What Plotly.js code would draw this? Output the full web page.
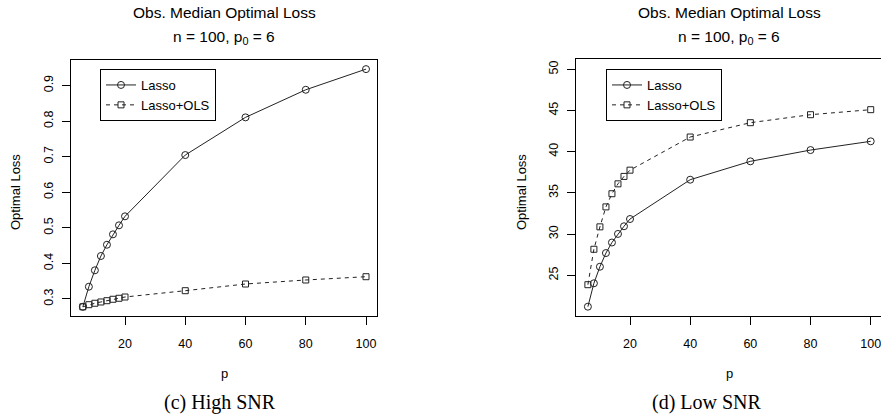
<!DOCTYPE html>
<html>
<head>
<meta charset="utf-8">
<script src="https://cdn.plot.ly/plotly-3.0.1.min.js"></script>
<style>html,body{margin:0;padding:0;background:#fff;}#chart{width:881px;height:418px;}</style>
</head>
<body>
<div id="chart"></div>
<script>
// Data
const p = [6, 8, 10, 12, 14, 16, 18, 20, 40, 60, 80, 100];
const lassoHigh = [0.278, 0.3345, 0.3806, 0.4208, 0.4525, 0.4817, 0.507, 0.5323, 0.7045, 0.8104, 0.8879, 0.946];
const olsHigh   = [0.278, 0.284, 0.288, 0.2916, 0.2952, 0.2992, 0.302, 0.3056, 0.3233, 0.3421, 0.3534, 0.3626];
const lassoLow  = [21.19, 24.03, 26.04, 27.7, 28.98, 30.02, 30.95, 31.83, 36.6, 38.83, 40.2, 41.26];
const olsLow    = [23.86, 28.16, 30.88, 33.3, 34.9, 36.1, 37.0, 37.76, 41.78, 43.52, 44.49, 45.1];
const seriesNames = ["Lasso", "Lasso+OLS"];
const panelTitle = "Obs. Median Optimal Loss";
const panelSubtitle = "n = 100, p<sub>0</sub> = 6";
const captions = ["(c) High SNR", "(d) Low SNR"];
const xTicks = [20, 40, 60, 80, 100];
const yTicksHigh = [0.3, 0.4, 0.5, 0.6, 0.7, 0.8, 0.9];
const yTicksLow = [25, 30, 35, 40, 45, 50];

const W = 881, H = 418;
const px = v => v / W;
const py = v => 1 - v / H;
const ink = "#222";
const sans = "Liberation Sans, Arial, sans-serif";

function lassoTrace(y, xa, ya, legend) {
  return {x: p, y: y, xaxis: xa, yaxis: ya, legend: legend, name: seriesNames[0],
    type: "scatter", mode: "lines+markers",
    line: {color: ink, width: 1},
    marker: {symbol: "circle-open", size: 7, color: ink, line: {color: ink, width: 1}}};
}
function olsTrace(y, xa, ya, legend) {
  return {x: p, y: y, xaxis: xa, yaxis: ya, legend: legend, name: seriesNames[1],
    type: "scatter", mode: "lines+markers",
    line: {color: ink, width: 1, dash: "4px,4px"},
    marker: {symbol: "square-open", size: 6, color: ink, line: {color: ink, width: 1}}};
}

const data = [
  lassoTrace(lassoHigh, "x", "y", "legend"),
  olsTrace(olsHigh, "x", "y", "legend"),
  lassoTrace(lassoLow, "x2", "y2", "legend2"),
  olsTrace(olsLow, "x2", "y2", "legend2")
];

const axisCommon = {
  showgrid: false, zeroline: false, showline: true, mirror: true,
  linecolor: "#000", linewidth: 1, ticks: "outside", ticklen: 8, tickwidth: 1,
  tickcolor: "#000", tickfont: {family: sans, size: 12.5, color: "#000"},
  ticklabeloverflow: "allow"
};

const legendCommon = {
  bgcolor: "#fff", bordercolor: "#000", borderwidth: 1,
  font: {family: sans, size: 13, color: "#000"},
  xanchor: "left", yanchor: "top", tracegroupgap: 0
};

function ann(text, x, y, size, extra) {
  return Object.assign({text: text, x: px(x), y: py(y), xref: "paper", yref: "paper",
    xanchor: "center", yanchor: "middle", showarrow: false,
    font: {family: sans, size: size, color: "#000"}}, extra || {});
}

const layout = {
  width: W, height: H,
  margin: {l: 0, r: 0, t: 0, b: 0},
  paper_bgcolor: "#fff", plot_bgcolor: "#fff",
  showlegend: true,
  xaxis: Object.assign({}, axisCommon, {domain: [px(71), px(377)], range: [2.07, 103.65],
    tickvals: xTicks, anchor: "y", ticklabelstandoff: 8}),
  yaxis: Object.assign({}, axisCommon, {domain: [py(316), py(60)], range: [0.2522, 0.9716],
    tickvals: yTicksHigh, anchor: "x", tickangle: -90, ticklabelstandoff: 4}),
  xaxis2: Object.assign({}, axisCommon, {domain: [px(576), 1], range: [2.05, 103.42],
    tickvals: xTicks, anchor: "y2", ticklabelstandoff: 8}),
  yaxis2: Object.assign({}, axisCommon, {domain: [py(316), py(59)], range: [20.06, 51.25],
    tickvals: yTicksLow, anchor: "x2", tickangle: -90, ticklabelstandoff: 4}),
  legend: Object.assign({}, legendCommon, {x: px(100), y: py(69)}),
  legend2: Object.assign({}, legendCommon, {x: px(606), y: py(69)}),
  annotations: [
    ann(panelTitle, 224, 13, 15.5),
    ann(panelSubtitle, 224, 37.5, 15.5),
    ann(panelTitle, 729, 13, 15.5),
    ann(panelSubtitle, 729, 37.5, 15.5),
    ann("Optimal Loss", 16, 192, 13, {textangle: -90}),
    ann("Optimal Loss", 522, 192, 13, {textangle: -90}),
    ann("p", 224, 373, 13),
    ann("p", 729, 373, 13),
    ann(captions[0], 220, 402, 20, {font: {family: "Liberation Serif, Times New Roman, serif", size: 20, color: "#000"}}),
    ann(captions[1], 707, 402, 20, {font: {family: "Liberation Serif, Times New Roman, serif", size: 20, color: "#000"}})
  ]
};

Plotly.newPlot("chart", data, layout, {staticPlot: true, displayModeBar: false});
</script>
</body>
</html>
